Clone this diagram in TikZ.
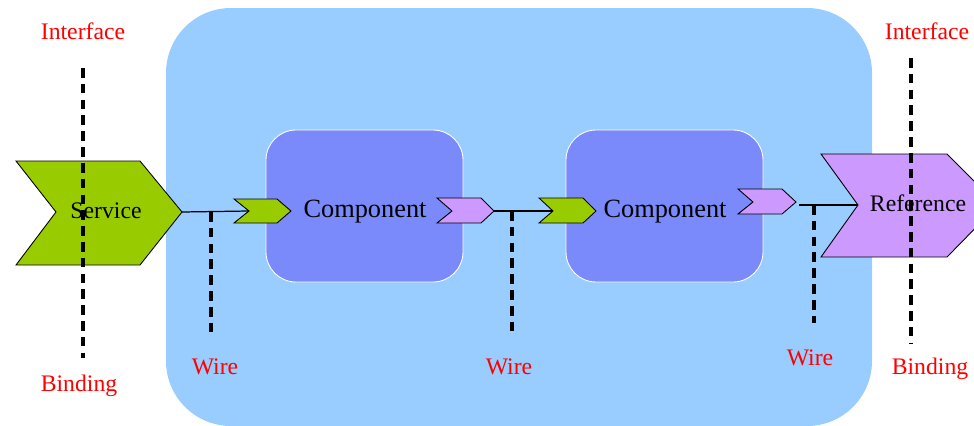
\documentclass[tikz,border=0pt]{standalone}
\usepackage{fontspec}
\setmainfont{Liberation Serif}
\definecolor{sca}{RGB}{153,204,255}
\definecolor{comp}{RGB}{122,138,250}
\definecolor{srvgreen}{RGB}{153,204,0}
\definecolor{refpink}{RGB}{204,153,255}
\tikzset{
  chev/.style={draw=black, line width=0.5pt, line join=miter},
  wire/.style={draw=black, line width=0.7pt},
  bar/.style={dash pattern=on 5.5pt off 3.5pt, line width=1.9pt},
  lbl/.style={text=red, anchor=base, font=\fontsize{13.5}{16}\selectfont},
  shtext/.style={anchor=base, font=\fontsize{13.5}{16}\selectfont},
}
\begin{document}
\begin{tikzpicture}[x=0.02cm, y=-0.02cm]
\useasboundingbox (0,0) rectangle (974,426);
\begin{scope}
\clip (0,0) rectangle (974,426);

% composite
\fill[sca, rounded corners=1.3cm] (166,8) rectangle (872,426);
\draw[white, fill=comp, line width=0.5pt, rounded corners=0.6cm] (266,130) rectangle (463,282);
\draw[white, fill=comp, line width=0.5pt, rounded corners=0.6cm] (566,130) rectangle (763,282);

% service and reference
\draw[chev, fill=srvgreen] (16,161)--(140,161)--(182,212) coordinate (srvtip)--(140,265)--(16,265)--(56,212) coordinate (srvnotch)--cycle;
\draw[chev, fill=refpink] (821,154)--(947,154)--(998,205) coordinate (reftip)--(947,257)--(821,257)--(858,205) coordinate (refnotch)--cycle;

% component services and references
\draw[chev, fill=srvgreen] (234,199)--(277,199)--(291,211) coordinate (cs1tip)--(277,223)--(234,223)--(249,211) coordinate (cs1notch)--cycle;
\draw[chev, fill=refpink] (437,198)--(481,198)--(494,211) coordinate (cr1tip)--(481,223)--(437,223)--(452,211) coordinate (cr1notch)--cycle;
\draw[chev, fill=srvgreen] (539,198)--(583,198)--(596,211) coordinate (cs2tip)--(583,223)--(539,223)--(553,211) coordinate (cs2notch)--cycle;
\draw[chev, fill=refpink] (738,189)--(782,189)--(796,202) coordinate (cr2tip)--(782,214)--(738,214)--(753,202) coordinate (cr2notch)--cycle;

% wires
\coordinate (cr2out) at (799,205);
\draw[wire] (srvtip) -- (cs1notch);
\draw[wire] (cr1tip) -- (cs2notch);
\draw[wire] (cr2out) -- (refnotch);

\coordinate (w1top) at (211,212);
\coordinate (w1bot) at (211,332);
\coordinate (w2top) at (512,211);
\coordinate (w2bot) at (512,332);
\coordinate (w3top) at (814,205);
\coordinate (w3bot) at (814,323);
\draw[bar] (w1top) -- (w1bot);
\draw[bar] (w2top) -- (w2bot);
\draw[bar] (w3top) -- (w3bot);

% interface / binding lines
\coordinate (ifl) at (83,68);
\coordinate (bdl) at (83,358);
\coordinate (ifr) at (911,58);
\coordinate (bdr) at (911,343);
\draw[bar] (ifl) -- (bdl);
\draw[bar] (ifr) -- (bdr);
\end{scope}

% names
\node[shtext] (srv) at (106,218) {Service};
\node[shtext] (ref) at (918,211) {Reference};
\node[shtext, font=\fontsize{15}{18}\selectfont] (cmp1) at (365,217) {Component};
\node[shtext, font=\fontsize{15}{18}\selectfont] (cmp2) at (665,217) {Component};

% labels
\node[lbl] (intl) at (83,39) {Interface};
\node[lbl] (intr) at (927,39) {Interface};
\node[lbl] (bndl) at (79,391) {Binding};
\node[lbl] (bndr) at (930,374) {Binding};
\node[lbl] (wire1) at (215,374) {Wire};
\node[lbl] (wire2) at (509,374) {Wire};
\node[lbl] (wire3) at (810,365) {Wire};
\end{tikzpicture}
\end{document}
